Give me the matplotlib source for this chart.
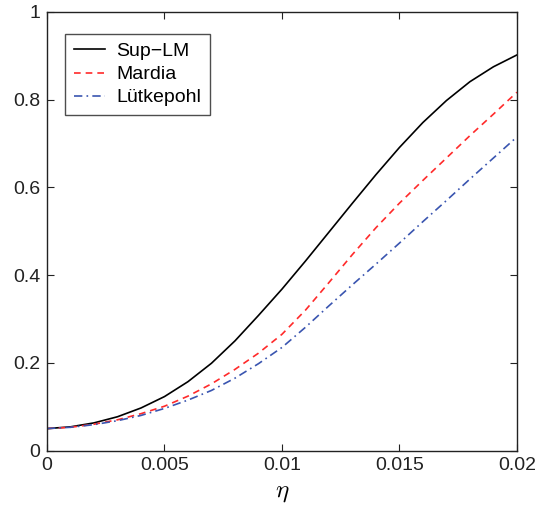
import numpy as np
import matplotlib
matplotlib.use('Agg')
import matplotlib.pyplot as plt

plt.rcParams['font.family'] = ['Liberation Sans', 'DejaVu Sans']
plt.rcParams['mathtext.fontset'] = 'cm'

# power curves
eta = [0.000, 0.001, 0.002, 0.003, 0.004, 0.005, 0.006, 0.007, 0.008, 0.009, 0.010,
       0.011, 0.012, 0.013, 0.014, 0.015, 0.016, 0.017, 0.018, 0.019, 0.020]
sup_lm = [0.050, 0.054, 0.063, 0.077, 0.097, 0.123, 0.157, 0.199, 0.250, 0.308, 0.368,
          0.432, 0.498, 0.564, 0.629, 0.691, 0.748, 0.798, 0.841, 0.875, 0.902]
mardia = [0.050, 0.053, 0.060, 0.070, 0.084, 0.101, 0.124, 0.152, 0.185, 0.222, 0.265,
          0.320, 0.383, 0.447, 0.508, 0.564, 0.616, 0.667, 0.718, 0.767, 0.817]
lutkepohl = [0.050, 0.053, 0.059, 0.068, 0.080, 0.096, 0.115, 0.137, 0.165, 0.198, 0.235,
             0.281, 0.330, 0.378, 0.425, 0.473, 0.522, 0.570, 0.619, 0.667, 0.715]

labels = ['Sup\u2212LM', 'Mardia', 'L\u00fctkepohl']

fig = plt.figure(figsize=(5.39, 5.14), dpi=100)
ax = fig.add_axes([0.0872, 0.1235, 0.8718, 0.8532])

ax.plot(eta, sup_lm, color='black', lw=1.2, label=labels[0])
ax.plot(eta, mardia, color='#ff2a2a', lw=1.2, ls=(0, (4, 3)), label=labels[1])
ax.plot(eta, lutkepohl, color='#3a55b0', lw=1.2, ls=(0, (5, 2.5, 1, 2.5)), label=labels[2])

ax.set_xlim(0, 0.02)
ax.set_ylim(0, 1)
ax.set_xticks([0, 0.005, 0.01, 0.015, 0.02])
ax.set_xticklabels(['0', '0.005', '0.01', '0.015', '0.02'])
ax.set_yticks([0, 0.2, 0.4, 0.6, 0.8, 1])
ax.set_yticklabels(['0', '0.2', '0.4', '0.6', '0.8', '1'])
ax.tick_params(direction='in', length=5, width=0.8, top=True, right=True,
               labelsize=14, colors='#222222', labelcolor='#222222', pad=5)
for s in ax.spines.values():
    s.set_linewidth(1.0)
    s.set_color('#222222')

ax.set_xlabel(r'$\eta$', fontsize=18, labelpad=4)

leg = ax.legend(loc='upper left', bbox_to_anchor=(0.038, 0.95), borderaxespad=0,
                fontsize=14, frameon=True, fancybox=False, handlelength=1.6,
                handletextpad=0.6, labelspacing=0.28, borderpad=0.45)
leg.get_frame().set_edgecolor('#222222')
leg.get_frame().set_linewidth(1.0)

fig.savefig('out.png', dpi=100)
